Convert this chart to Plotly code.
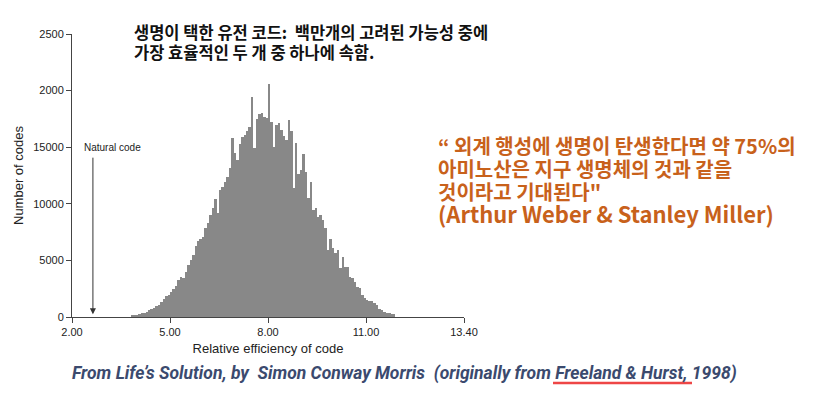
import numpy as np
import plotly.graph_objects as go

# ---- data -------------------------------------------------------------
bin_start = 3.8
bin_width = 0.075
counts = [
    120, 150, 180, 240, 320, 380, 480, 580, 700, 820,
    950, 1080, 1350, 1600, 1850, 1950, 2200, 2500, 2700, 3300,
    3500, 3450, 4000, 4600, 5000, 5450, 6300, 6700, 6850, 7100,
    7850, 8300, 9000, 9600, 10400, 9150, 11200, 11500, 11900, 12400,
    13200, 15780, 14500, 13860, 15300, 15900, 16100, 16400, 16800, 19450,
    14900, 17500, 17900, 18000, 17700, 17600, 20570, 17250, 15040, 16950,
    17100, 16500, 16000, 15600, 17400, 16400, 11360, 15400, 12600, 13000,
    14400, 12800, 10500, 11900, 9450, 9600, 8800, 9000, 8600, 7830,
    5920, 6900, 6100, 5620, 5920, 4300, 5330, 4440, 4440, 3560,
    3415, 3120, 2680, 2530, 1940, 1650, 1500, 1440, 1385, 1200,
    1060, 750, 620, 470, 380, 325, 265, 265,
]
x_tick_vals = [2, 5, 8, 11, 14]
x_tick_text = ["2.00", "5.00", "8.00", "11.00", "13.40"]
y_tick_vals = [0, 5000, 10000, 15000, 20000, 25000]
y_tick_text = ["0", "5000", "10000", "15000", "2000", "2500"]
natural_code_x = 2.64

title_lines = ["생명이 택한 유전 코드:  백만개의 고려된 가능성 중에",
               "가장 효율적인 두 개 중 하나에 속함."]
quote_lines = ["“ 외계 행성에 생명이 탄생한다면 약 75%의",
               "아미노산은 지구 생명체의 것과 같을",
               "것이라고 기대된다\"",
               "(Arthur Weber &amp; Stanley Miller)"]
caption = "From Life’s Solution, by  Simon Conway Morris  (originally from Freeland &amp; Hurst, 1998)"

bin_centers = bin_start + bin_width * (np.arange(len(counts)) + 0.5)

# ---- layout geometry (page pixels; the page body adds an 8px offset) --
OFF = 8
W, H = 814 - 2 * OFF, 395 - 2 * OFF
L, R, T, B = 72, 464, 34, 317          # plot area in page pixels
def px(xp):
    return (xp - L) / (R - L)
def py(yp):
    return (B - yp) / (B - T)

# ---- figure -----------------------------------------------------------
fig = go.Figure()
fig.add_trace(go.Bar(
    x=bin_centers, y=counts, width=bin_width,
    marker=dict(color="#888888", line=dict(width=0)),
    hoverinfo="skip",
))

sans = "Liberation Sans, Arial, sans-serif"
axis_font = dict(family=sans, size=11, color="#222")

fig.update_layout(
    width=W, height=H,
    margin=dict(l=L - OFF, r=W - (R - OFF), t=T - OFF, b=H - (B - OFF), autoexpand=False),
    paper_bgcolor="white", plot_bgcolor="white",
    showlegend=False, bargap=0,
    xaxis=dict(
        range=[2, 14], tickvals=x_tick_vals, ticktext=x_tick_text,
        showgrid=False, zeroline=False, showline=True, linecolor="#444", linewidth=1,
        ticks="outside", ticklen=5, tickcolor="#444", tickfont=axis_font,
        title=dict(text="Relative efficiency of code",
                   font=dict(family=sans, size=13, color="#222"), standoff=6),
    ),
    yaxis=dict(
        range=[0, 25000], tickvals=y_tick_vals, ticktext=y_tick_text,
        showgrid=False, zeroline=False, showline=True, linecolor="#444", linewidth=1,
        ticks="outside", ticklen=5, tickcolor="#444", tickfont=axis_font,
        title=dict(text="Number of codes",
                   font=dict(family=sans, size=13, color="#222"), standoff=6),
    ),
)

# Natural code arrow + label
fig.add_annotation(
    x=natural_code_x, y=250, xref="x", yref="y", text="",
    showarrow=True, ax=0, ay=-158, axref="pixel", ayref="pixel",
    arrowhead=2, arrowsize=1.2, arrowwidth=1, arrowcolor="#333",
)
fig.add_annotation(
    x=px(82), y=py(147), xref="paper", yref="paper", text="Natural code",
    showarrow=False, xanchor="left", yanchor="middle",
    font=dict(family=sans, size=10, color="#222"),
)

# Korean title (black, bold) - single block, 20px line spacing
fig.add_annotation(
    x=px(132), y=py(42), xref="paper", yref="paper",
    xanchor="left", yanchor="middle", align="left", showarrow=False,
    text="<br>".join(f'<span style="font-size:16.5px"><b>{l}</b></span>' for l in title_lines),
    font=dict(family="Noto Sans CJK KR", size=15.4, color="#111"),
)

# Orange quote - single block, ~23px line spacing
quote_sizes = [20, 20, 20, 22]
fig.add_annotation(
    x=px(436), y=py(180), xref="paper", yref="paper",
    xanchor="left", yanchor="middle", align="left", showarrow=False,
    text="<br>".join(f'<span style="font-size:{s}px"><b>{l}</b></span>'
                     for l, s in zip(quote_lines, quote_sizes)),
    font=dict(family="Noto Sans CJK KR", size=17.7, color="#c8611b"),
)

# Caption
fig.add_annotation(
    x=px(404), y=py(373), xref="paper", yref="paper",
    xanchor="center", yanchor="middle", showarrow=False,
    text=f"<b><i>{caption}</i></b>",
    font=dict(family="Roboto, Noto Sans, sans-serif", size=17.5, color="#3b4a6e"),
)
fig.add_shape(
    type="line", xref="paper", yref="paper",
    x0=px(553), x1=px(692), y0=py(383), y1=py(383),
    line=dict(color="#ee4646", width=2.5),
)

fig.write_html("out.html")
